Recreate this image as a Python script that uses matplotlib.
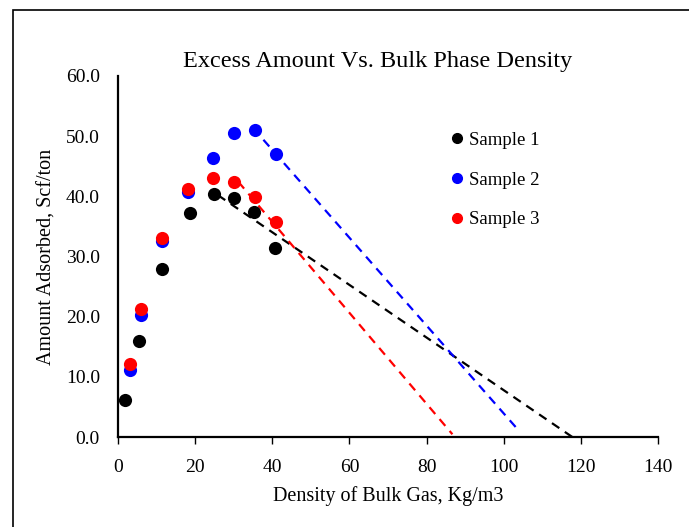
import matplotlib
matplotlib.use("Agg")
import matplotlib.pyplot as plt
from matplotlib.patches import Rectangle
from matplotlib.lines import Line2D

plt.rcParams["font.family"] = ["Liberation Serif", "DejaVu Serif"]

# bulk gas density, kg/m3
x1 = [1.7, 5.4, 11.5, 18.7, 24.9, 30.2, 35.3, 40.8]
x2 = [3.1, 6.0, 11.5, 18.1, 24.7, 30.2, 35.5, 41.0]
x3 = [3.1, 6.0, 11.5, 18.2, 24.7, 30.2, 35.5, 41.0]
# excess adsorbed amount, scf/ton
y1 = [6.1, 15.9, 28.0, 37.3, 40.4, 39.8, 37.4, 31.4]
y2 = [11.2, 20.3, 32.6, 40.8, 46.4, 50.5, 51.0, 47.1]
y3 = [12.1, 21.3, 33.0, 41.2, 43.0, 42.3, 39.9, 35.7]

names = ["Sample 1", "Sample 2", "Sample 3"]
colors = ["black", "blue", "red"]

# linear trend lines: (slope, intercept, x start, x end)
trends = [(-0.4375, 51.53, 25.9, 117.8),
          (-0.730, 76.92, 37.7, 103.8),
          (-0.756, 66.0, 31.2, 86.7)]

fig = plt.figure(figsize=(6.89, 5.27), dpi=100)
ax = fig.add_axes([118 / 689, 1 - 437 / 527, 540 / 689, 361 / 527])

for xs, ys, c in zip([x1, x2, x3], [y1, y2, y3], colors):
    ax.scatter(xs, ys, s=90, color=c, zorder=3, linewidths=0)

for (m, b, xa, xb), c in zip(trends, colors):
    ax.plot([xa, xb], [m * xa + b, m * xb + b], color=c, ls=(0, (4, 3)), lw=1.6, zorder=2)

ax.set_xlim(0, 140)
ax.set_ylim(0, 60)
ax.set_xticks(range(0, 141, 20))
ax.set_yticks(range(0, 61, 10))
ax.set_yticklabels([f"{v:.1f}" for v in range(0, 61, 10)])
ax.spines[["top", "right"]].set_visible(False)
for s in ("left", "bottom"):
    ax.spines[s].set_linewidth(1.6)
ax.tick_params(axis="x", length=5, width=1, direction="out", labelsize=14, pad=11)
ax.tick_params(axis="y", length=0, labelsize=14, pad=13)
ax.set_xlabel("Density of Bulk Gas, Kg/m3", fontsize=14.5, labelpad=7)
ax.set_ylabel("Amount Adsorbed, Scf/ton", fontsize=14.5, labelpad=7)

fig.text(378 / 689, 1 - 61 / 527, "Excess Amount Vs. Bulk Phase Density",
         ha="center", va="center", fontsize=17.5)

handles = [Line2D([], [], ls="none", marker="o", color=c, markersize=7) for c in colors]
ax.legend(handles, names, loc="upper left", bbox_to_anchor=(0.58, 0.892), frameon=False,
          fontsize=13.5, handletextpad=0.1, labelspacing=1.2, handlelength=1.0)

# chart-area border, cut off by the image edges
fig.patches.append(Rectangle((13 / 689, -0.1), 1.1, 1 - 10 / 527 + 0.1,
                             transform=fig.transFigure, fill=False,
                             edgecolor="black", lw=1.2))

fig.savefig("out.png", dpi=100)
